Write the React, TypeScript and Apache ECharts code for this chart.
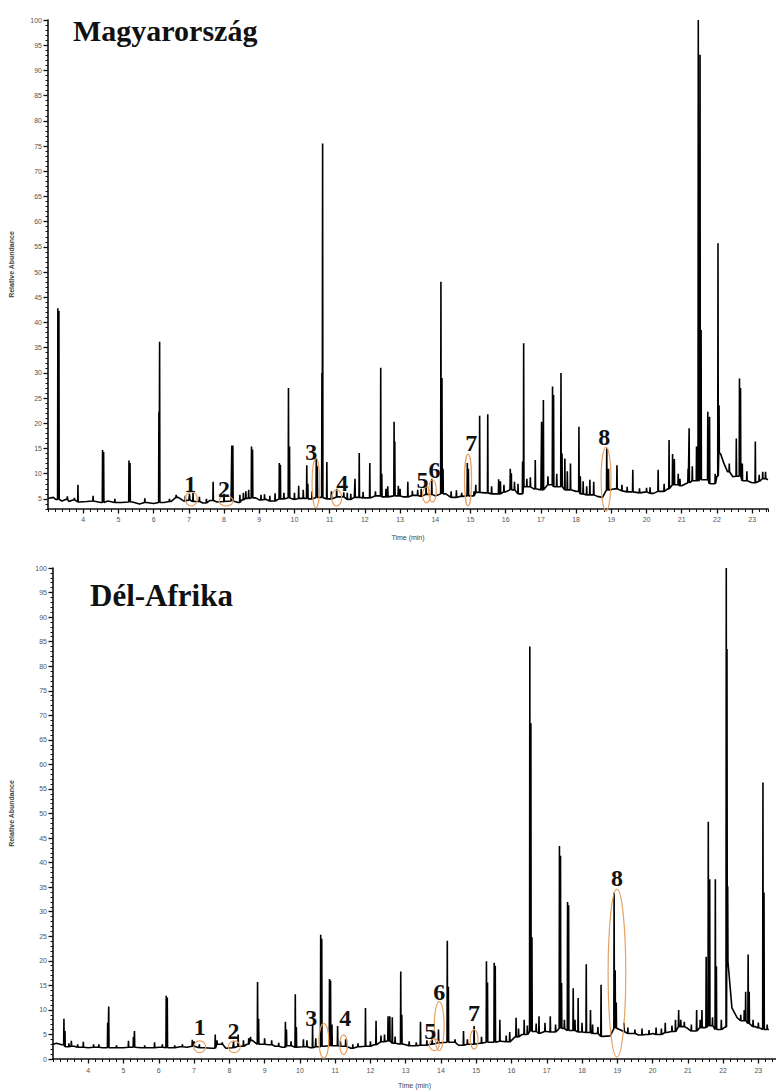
import React, { useEffect, useRef } from "react";
import * as echarts from "echarts";

// ---------- Magyarország (top chromatogram) ----------
const huBaseline: [number, number][] = [
  [3.0, 5.1], [3.15, 5.3], [3.22, 4.9], [3.4, 4.6], [3.5, 4.9], [3.6, 4.5], [3.7, 4.8], [3.9, 4.4],
  [4.1, 4.5], [4.3, 4.6], [4.5, 4.3], [4.7, 4.6], [4.9, 4.3], [5.1, 4.3], [5.4, 4.4], [5.6, 4.0],
  [5.8, 4.3], [6.0, 4.1], [6.3, 4.3], [6.5, 4.5], [6.7, 5.3], [6.85, 4.6], [7.0, 4.8], [7.2, 4.5],
  [7.4, 4.2], [7.6, 4.7], [7.8, 4.4], [8.0, 4.5], [8.2, 4.6], [8.4, 4.3], [8.5, 4.8], [8.65, 5.1],
  [8.9, 5.2], [9.0, 4.8], [9.2, 4.9], [9.4, 4.6], [9.6, 5.0], [9.8, 5.2], [10.0, 4.9], [10.2, 5.1],
  [10.5, 5.0], [10.7, 5.3], [11.0, 5.0], [11.3, 5.4], [11.5, 4.9], [11.7, 5.3], [12.0, 5.2],
  [12.3, 5.6], [12.6, 5.4], [12.9, 5.6], [13.1, 5.4], [13.4, 5.7], [13.6, 5.5], [13.8, 5.9],
  [14.0, 5.6], [14.3, 6.0], [14.5, 5.3], [14.7, 5.5], [15.0, 5.6], [15.2, 6.3], [15.4, 6.2],
  [15.7, 6.0], [16.0, 6.4], [16.2, 6.8], [16.4, 6.0], [16.6, 7.4], [16.8, 7.0], [17.0, 6.8],
  [17.2, 7.8], [17.5, 7.4], [17.8, 6.8], [18.0, 6.5], [18.2, 6.0], [18.4, 5.8], [18.6, 5.5],
  [18.75, 5.3], [18.95, 6.8], [19.1, 7.0], [19.3, 6.6], [19.5, 6.4], [19.8, 6.2], [20.0, 6.4],
  [20.2, 6.1], [20.4, 6.5], [20.6, 7.0], [20.8, 7.8], [21.0, 7.6], [21.2, 8.2], [21.35, 8.6],
  [21.6, 8.8], [21.9, 8.0], [22.0, 9.5], [22.1, 14.0], [22.2, 12.0], [22.3, 10.4], [22.45, 9.4],
  [22.6, 9.5], [22.8, 8.6], [23.0, 8.2], [23.2, 8.5], [23.35, 9.0], [23.45, 8.8],
];

const huPeaks: [number, number][] = [
  [3.28, 42.8], [3.31, 42.3], [3.55, 5.5], [3.75, 5.2], [3.85, 7.8], [4.28, 5.6], [4.55, 14.7],
  [4.58, 14.3], [4.9, 5.0], [5.3, 12.6], [5.33, 12.1], [5.75, 5.1], [6.15, 22.3], [6.17, 36.2],
  [6.45, 5.0], [6.64, 5.8], [6.9, 5.6], [7.02, 6.0], [7.12, 6.2], [7.3, 5.4], [7.5, 5.0],
  [7.69, 8.4], [8.0, 6.0], [8.22, 15.6], [8.25, 15.6], [8.45, 5.8], [8.55, 6.2], [8.62, 6.5],
  [8.7, 6.8], [8.78, 15.4], [8.81, 14.8], [9.05, 5.8], [9.15, 5.9], [9.3, 5.6], [9.45, 6.1],
  [9.57, 12.1], [9.6, 11.8], [9.7, 6.2], [9.83, 27.0], [9.86, 15.4], [10.0, 6.2], [10.12, 7.6],
  [10.25, 6.8], [10.35, 11.7], [10.38, 8.0], [10.5, 6.5], [10.62, 13.0], [10.65, 11.5],
  [10.78, 30.0], [10.8, 75.5], [10.92, 12.3], [11.05, 6.5], [11.2, 7.0], [11.4, 6.3], [11.5, 6.2],
  [11.6, 6.0], [11.72, 9.0], [11.84, 14.1], [11.95, 6.4], [12.14, 12.1], [12.3, 6.5],
  [12.45, 31.0], [12.48, 10.0], [12.6, 7.0], [12.65, 7.5], [12.83, 20.3], [12.85, 16.4],
  [12.95, 7.6], [13.0, 7.0], [13.22, 8.4], [13.35, 6.6], [13.5, 6.8], [13.6, 7.0], [13.74, 8.5],
  [13.9, 9.0], [14.16, 48.1], [14.19, 29.0], [14.22, 11.0], [14.45, 6.5], [14.6, 6.7],
  [14.75, 6.2], [14.91, 12.1], [14.94, 11.0], [15.1, 6.5], [15.15, 7.8], [15.26, 21.5],
  [15.49, 21.8], [15.6, 7.5], [15.8, 8.9], [15.85, 8.5], [15.95, 7.8], [16.13, 11.0],
  [16.16, 10.1], [16.25, 8.4], [16.35, 8.0], [16.48, 12.4], [16.51, 35.9], [16.6, 9.0],
  [16.7, 9.3], [16.84, 12.7], [17.02, 20.3], [17.07, 24.6], [17.2, 9.5], [17.33, 27.3],
  [17.36, 25.6], [17.45, 10.0], [17.57, 30.0], [17.6, 14.0], [17.68, 13.0], [17.75, 10.5],
  [17.84, 12.0], [18.08, 19.3], [18.12, 9.5], [18.2, 8.5], [18.3, 7.5], [18.39, 8.8], [18.5, 8.4],
  [18.87, 15.0], [18.92, 11.0], [19.16, 11.7], [19.3, 7.8], [19.45, 7.4], [19.61, 10.8],
  [19.8, 7.1], [20.0, 7.2], [20.1, 7.3], [20.33, 10.8], [20.5, 8.0], [20.64, 16.7], [20.74, 13.9],
  [20.79, 12.9], [20.9, 10.0], [20.95, 9.0], [21.18, 11.0], [21.21, 19.0], [21.3, 11.5],
  [21.42, 15.4], [21.47, 100], [21.52, 93.1], [21.55, 38.5], [21.74, 22.3], [21.79, 21.3],
  [21.95, 10.0], [22.03, 55.7], [22.06, 23.6], [22.35, 12.0], [22.55, 17.0], [22.64, 28.9],
  [22.67, 27.0], [22.72, 12.0], [22.85, 10.5], [23.09, 16.4], [23.2, 9.8], [23.3, 10.4],
  [23.38, 10.4],
];

// ---------- Dél-Afrika (bottom chromatogram) ----------
const zaBaseline: [number, number][] = [
  [3.0, 3.0], [3.1, 3.2], [3.25, 2.9], [3.4, 2.5], [3.6, 2.6], [3.8, 2.4], [4.0, 2.3], [4.2, 2.4],
  [4.4, 2.3], [4.7, 2.3], [5.0, 2.3], [5.2, 2.4], [5.5, 2.3], [5.8, 2.3], [6.0, 2.4], [6.4, 2.3],
  [6.6, 2.5], [6.8, 2.4], [7.0, 2.6], [7.3, 2.3], [7.5, 2.2], [7.7, 3.0], [7.9, 2.2], [8.1, 2.3],
  [8.3, 2.6], [8.5, 3.0], [8.65, 3.8], [8.9, 3.0], [9.1, 2.9], [9.3, 2.6], [9.5, 2.4], [9.7, 2.7],
  [9.9, 2.4], [10.1, 2.5], [10.3, 2.3], [10.5, 2.5], [10.7, 2.6], [10.95, 2.7], [11.2, 2.6],
  [11.45, 2.2], [11.7, 2.5], [11.95, 2.6], [12.1, 2.9], [12.3, 3.5], [12.5, 3.7], [12.7, 3.2],
  [12.95, 3.0], [13.2, 2.7], [13.5, 2.8], [13.7, 3.0], [14.0, 3.3], [14.3, 3.4], [14.5, 2.8],
  [14.8, 3.0], [15.1, 3.2], [15.4, 3.4], [15.7, 3.6], [15.9, 3.5], [16.1, 4.5], [16.3, 5.0],
  [16.6, 5.6], [16.8, 5.2], [17.0, 5.6], [17.2, 5.5], [17.45, 6.2], [17.7, 5.8], [17.95, 5.5],
  [18.2, 5.4], [18.4, 5.2], [18.6, 4.6], [18.8, 4.7], [19.0, 6.2], [19.2, 5.6], [19.4, 5.2],
  [19.6, 4.9], [19.8, 5.0], [20.0, 5.2], [20.2, 5.0], [20.4, 5.4], [20.6, 5.6], [20.8, 6.6],
  [21.0, 6.2], [21.2, 5.7], [21.4, 6.4], [21.65, 6.8], [21.9, 6.0], [22.05, 6.5], [22.15, 19.8],
  [22.25, 10.4], [22.4, 8.4], [22.55, 7.8], [22.75, 7.2], [22.9, 6.6], [23.05, 6.3], [23.2, 6.0],
  [23.3, 6.0],
];

const zaPeaks: [number, number][] = [
  [3.31, 8.2], [3.34, 5.7], [3.45, 3.2], [3.52, 3.7], [3.7, 3.0], [3.86, 3.5], [4.15, 3.0],
  [4.3, 3.0], [4.55, 7.4], [4.58, 10.7], [4.8, 2.8], [5.14, 3.7], [5.28, 4.5], [5.31, 5.7],
  [5.6, 2.8], [5.88, 3.4], [6.1, 3.0], [6.21, 12.9], [6.24, 12.5], [6.45, 2.8], [6.67, 3.0],
  [6.95, 3.9], [7.0, 3.6], [7.15, 3.0], [7.6, 5.0], [7.65, 3.8], [7.8, 3.4], [8.12, 3.6],
  [8.25, 5.0], [8.4, 3.8], [8.55, 4.2], [8.6, 4.5], [8.8, 15.7], [8.83, 8.2], [9.0, 4.2],
  [9.2, 3.8], [9.4, 3.3], [9.59, 7.6], [9.62, 6.0], [9.75, 3.6], [9.87, 13.2], [9.9, 6.5],
  [10.1, 4.0], [10.2, 3.8], [10.36, 7.0], [10.45, 4.2], [10.59, 25.3], [10.62, 24.5],
  [10.84, 16.3], [10.87, 16.0], [10.91, 7.0], [11.07, 6.7], [11.15, 3.6], [11.3, 4.0],
  [11.5, 3.0], [11.65, 3.2], [11.86, 10.4], [12.0, 3.6], [12.16, 7.8], [12.3, 4.8], [12.4, 5.0],
  [12.5, 8.7], [12.55, 8.7], [12.62, 8.5], [12.7, 4.6], [12.86, 17.8], [12.89, 9.0], [13.1, 3.6],
  [13.3, 3.4], [13.42, 7.6], [13.6, 3.8], [13.75, 4.2], [13.93, 6.0], [14.18, 24.1],
  [14.21, 14.7], [14.4, 4.0], [14.64, 5.7], [14.75, 4.0], [14.94, 6.7], [15.15, 4.5],
  [15.29, 19.9], [15.32, 15.6], [15.51, 19.6], [15.54, 19.0], [15.67, 8.0], [15.85, 4.8],
  [15.95, 5.5], [16.13, 8.4], [16.2, 6.2], [16.36, 8.0], [16.45, 6.8], [16.52, 84.0],
  [16.55, 68.4], [16.58, 24.8], [16.7, 7.2], [16.78, 8.7], [16.95, 7.4], [17.1, 8.7],
  [17.25, 7.0], [17.36, 43.4], [17.39, 41.4], [17.42, 15.5], [17.5, 8.0], [17.59, 32.0],
  [17.62, 31.3], [17.75, 14.4], [17.8, 8.0], [17.89, 12.4], [18.0, 7.4], [18.12, 19.3],
  [18.24, 10.0], [18.3, 7.0], [18.45, 6.5], [18.54, 15.1], [18.91, 33.9], [18.94, 18.1],
  [18.97, 11.5], [19.19, 7.4], [19.3, 6.4], [19.5, 6.0], [19.7, 6.2], [19.9, 5.9], [20.1, 6.4],
  [20.25, 6.2], [20.36, 7.4], [20.55, 6.8], [20.65, 8.0], [20.74, 10.0], [20.8, 8.0], [20.9, 7.6],
  [21.1, 7.0], [21.25, 10.0], [21.35, 8.0], [21.4, 10.0], [21.52, 20.8], [21.58, 48.3],
  [21.62, 36.6], [21.7, 8.5], [21.78, 36.6], [21.81, 18.9], [21.95, 8.0], [22.09, 100],
  [22.11, 83.5], [22.13, 35.2], [22.5, 9.0], [22.6, 10.0], [22.64, 13.7], [22.71, 21.3],
  [22.74, 13.7], [22.85, 8.0], [23.0, 7.4], [23.13, 56.3], [23.16, 33.9], [23.25, 7.0],
];

// ---------- axes ----------
const huRange = { min: 3.0, max: 23.45, ymin: 3, ymax: 100 };
const zaRange = { min: 3.0, max: 23.5, ymin: 0, ymax: 100 };
const timeLabels = [4, 5, 6, 7, 8, 9, 10, 11, 12, 13, 14, 15, 16, 17, 18, 19, 20, 21, 22, 23];
const huAbundanceLabels = [5, 10, 15, 20, 25, 30, 35, 40, 45, 50, 55, 60, 65, 70, 75, 80, 85, 90, 95, 100];
const zaAbundanceLabels = [0, 5, 10, 15, 20, 25, 30, 35, 40, 45, 50, 55, 60, 65, 70, 75, 80, 85, 90, 95, 100];

// ---------- peak annotations (time range, abundance range, label position) ----------
type Ann = { label: string; t: [number, number]; v: [number, number]; at: [number, number] };
const huAnnotations: Ann[] = [
  { label: "1", t: [6.9, 7.24], v: [3.6, 6.4], at: [7.04, 8.0] },
  { label: "2", t: [7.86, 8.26], v: [3.6, 5.6], at: [8.0, 7.0] },
  { label: "3", t: [10.5, 10.72], v: [3.2, 13.1], at: [10.48, 14.3] },
  { label: "4", t: [11.06, 11.34], v: [3.6, 6.8], at: [11.36, 8.2] },
  { label: "5", t: [13.64, 13.86], v: [4.2, 7.4], at: [13.64, 8.8] },
  { label: "6", t: [13.81, 14.03], v: [4.4, 8.8], at: [13.98, 10.7] },
  { label: "7", t: [14.83, 15.03], v: [3.6, 13.9], at: [15.02, 16.1] },
  { label: "8", t: [18.71, 18.99], v: [2.6, 15.3], at: [18.8, 17.3] },
];
const zaAnnotations: Ann[] = [
  { label: "1", t: [6.99, 7.33], v: [1.3, 3.7], at: [7.16, 6.5] },
  { label: "2", t: [7.97, 8.31], v: [1.3, 3.7], at: [8.12, 5.7] },
  { label: "3", t: [10.54, 10.82], v: [0.2, 7.2], at: [10.32, 8.4] },
  { label: "4", t: [11.13, 11.35], v: [0.9, 4.9], at: [11.29, 8.4] },
  { label: "5", t: [13.67, 13.95], v: [1.7, 4.1], at: [13.7, 5.8] },
  { label: "6", t: [13.81, 14.09], v: [1.7, 11.7], at: [13.95, 13.7] },
  { label: "7", t: [14.83, 15.05], v: [2.0, 6.0], at: [14.94, 9.4] },
  { label: "8", t: [18.74, 19.24], v: [0.4, 34.6], at: [18.99, 36.9] },
];

function buildTrace(baseline: [number, number][], peaks: [number, number][]) {
  const pts: [number, number][] = baseline.map((p) => [p[0], p[1]]);
  const nearest = (t: number) =>
    baseline.reduce((b, p) => (Math.abs(p[0] - t) < Math.abs(b[0] - t) ? p : b))[1];
  for (const [t, h] of peaks) {
    const b = nearest(t);
    pts.push([t - 0.008, b], [t, h], [t + 0.008, b]);
  }
  pts.sort((a, b) => a[0] - b[0]);
  return pts;
}

const AXIS_COLOR = "#111";
const LABEL_COLOR = "#555";

function axesFor(grid: number, r: typeof huRange, yLabels: number[], xMargin: number, xNameGap: number, yNameGap: number) {
  const xAxes = [
    {
      type: "value", gridIndex: grid, min: r.min, max: r.max, position: "bottom",
      axisLine: { show: true, onZero: false, lineStyle: { color: AXIS_COLOR, width: 1.6 } },
      axisTick: { show: true, customValues: timeLabels, length: 4.5, lineStyle: { color: AXIS_COLOR, width: 1.3 } },
      axisLabel: { show: true, customValues: timeLabels, fontSize: 7, color: LABEL_COLOR, margin: xMargin, fontFamily: "Arial" },
      splitLine: { show: false },
      name: "Time (min)", nameLocation: "middle", nameGap: xNameGap,
      nameTextStyle: { fontSize: 7, color: "#444", fontFamily: "Arial" },
    },
    {
      // minor ticks every 0.2 min
      type: "value", gridIndex: grid, min: r.min, max: r.max, interval: 0.2, position: "bottom",
      axisLine: { show: false, onZero: false },
      axisTick: { show: true, length: 3, lineStyle: { color: AXIS_COLOR, width: 1 } },
      axisLabel: { show: false },
      splitLine: { show: false },
    },
  ];
  const yAxes = [
    {
      type: "value", gridIndex: grid, min: r.ymin, max: r.ymax, position: "left",
      axisLine: { show: true, onZero: false, lineStyle: { color: AXIS_COLOR, width: 1.6 } },
      axisTick: { show: true, customValues: yLabels, length: 4.5, lineStyle: { color: AXIS_COLOR, width: 1.3 } },
      axisLabel: { show: true, customValues: yLabels, fontSize: 7, color: LABEL_COLOR, margin: 6, fontFamily: "Arial" },
      splitLine: { show: false },
      name: "Relative Abundance", nameLocation: "middle", nameGap: yNameGap,
      nameTextStyle: { fontSize: 7, fontWeight: "bold", color: "#444", fontFamily: "Arial" },
    },
    {
      // minor ticks every 1 unit
      type: "value", gridIndex: grid, min: r.ymin, max: r.ymax, interval: 1, position: "left",
      axisLine: { show: false, onZero: false },
      axisTick: { show: true, length: 2.5, lineStyle: { color: AXIS_COLOR, width: 1 } },
      axisLabel: { show: false },
      splitLine: { show: false },
    },
  ];
  return { xAxes, yAxes };
}

export default function App() {
  const ref = useRef<HTMLDivElement>(null);

  useEffect(() => {
    if (!ref.current) return;
    const chart = echarts.init(ref.current, undefined, { renderer: "svg" });
    const hu = axesFor(0, huRange, huAbundanceLabels, 7, 25, 33);
    const za = axesFor(1, zaRange, zaAbundanceLabels, 8, 23, 38);

    chart.setOption({
      animation: false,
      backgroundColor: "#ffffff",
      grid: [
        { left: 43, top: 20, width: 725, height: 489, containLabel: false },
        { left: 48, top: 568, width: 737, height: 497, containLabel: false },
      ],
      xAxis: [...hu.xAxes, ...za.xAxes],
      yAxis: [...hu.yAxes, ...za.yAxes],
      series: [
        {
          name: "Magyarország", type: "line", xAxisIndex: 0, yAxisIndex: 0,
          data: buildTrace(huBaseline, huPeaks), showSymbol: false, symbol: "none",
          lineStyle: { color: "#000", width: 1.6 }, clip: true, silent: true,
        },
        {
          name: "Dél-Afrika", type: "line", xAxisIndex: 2, yAxisIndex: 2,
          data: buildTrace(zaBaseline, zaPeaks), showSymbol: false, symbol: "none",
          lineStyle: { color: "#000", width: 1.6 }, clip: true, silent: true,
        },
      ],
    });

    const graphics: any[] = [
      {
        type: "text", left: 73, top: 15, z: 20,
        style: { text: "Magyarország", fontSize: 30, fontWeight: "bold", fontFamily: "Liberation Serif", fill: "#111" },
      },
      {
        type: "text", left: 90, top: 580, z: 20,
        style: { text: "Dél-Afrika", fontSize: 31, fontWeight: "bold", fontFamily: "Liberation Serif", fill: "#111" },
      },
    ];
    const addAnn = (list: Ann[], grid: number) => {
      for (const a of list) {
        const p0 = chart.convertToPixel({ gridIndex: grid } as any, [a.t[0], a.v[0]]) as number[];
        const p1 = chart.convertToPixel({ gridIndex: grid } as any, [a.t[1], a.v[1]]) as number[];
        const pl = chart.convertToPixel({ gridIndex: grid } as any, a.at) as number[];
        graphics.push({
          type: "ellipse", z: 15, silent: true,
          shape: { cx: (p0[0] + p1[0]) / 2, cy: (p0[1] + p1[1]) / 2, rx: Math.abs(p1[0] - p0[0]) / 2, ry: Math.abs(p1[1] - p0[1]) / 2 },
          style: { fill: "transparent", stroke: "#e6a163", lineWidth: 1.2 },
        });
        graphics.push({
          type: "text", x: pl[0], y: pl[1], z: 16, silent: true,
          style: { text: a.label, fontSize: 24, fontWeight: "bold", fontFamily: "Liberation Serif", fill: "#111", align: "center", verticalAlign: "middle" },
        });
      }
    };
    addAnn(huAnnotations, 0);
    addAnn(zaAnnotations, 1);
    chart.setOption({ graphic: graphics });

    return () => chart.dispose();
  }, []);

  return (
    <div style={{ position: "absolute", left: 0, top: 0, width: 776, height: 1090, overflow: "hidden", background: "#fff" }}>
      <div ref={ref} style={{ width: 776, height: 1090 }} />
    </div>
  );
}
